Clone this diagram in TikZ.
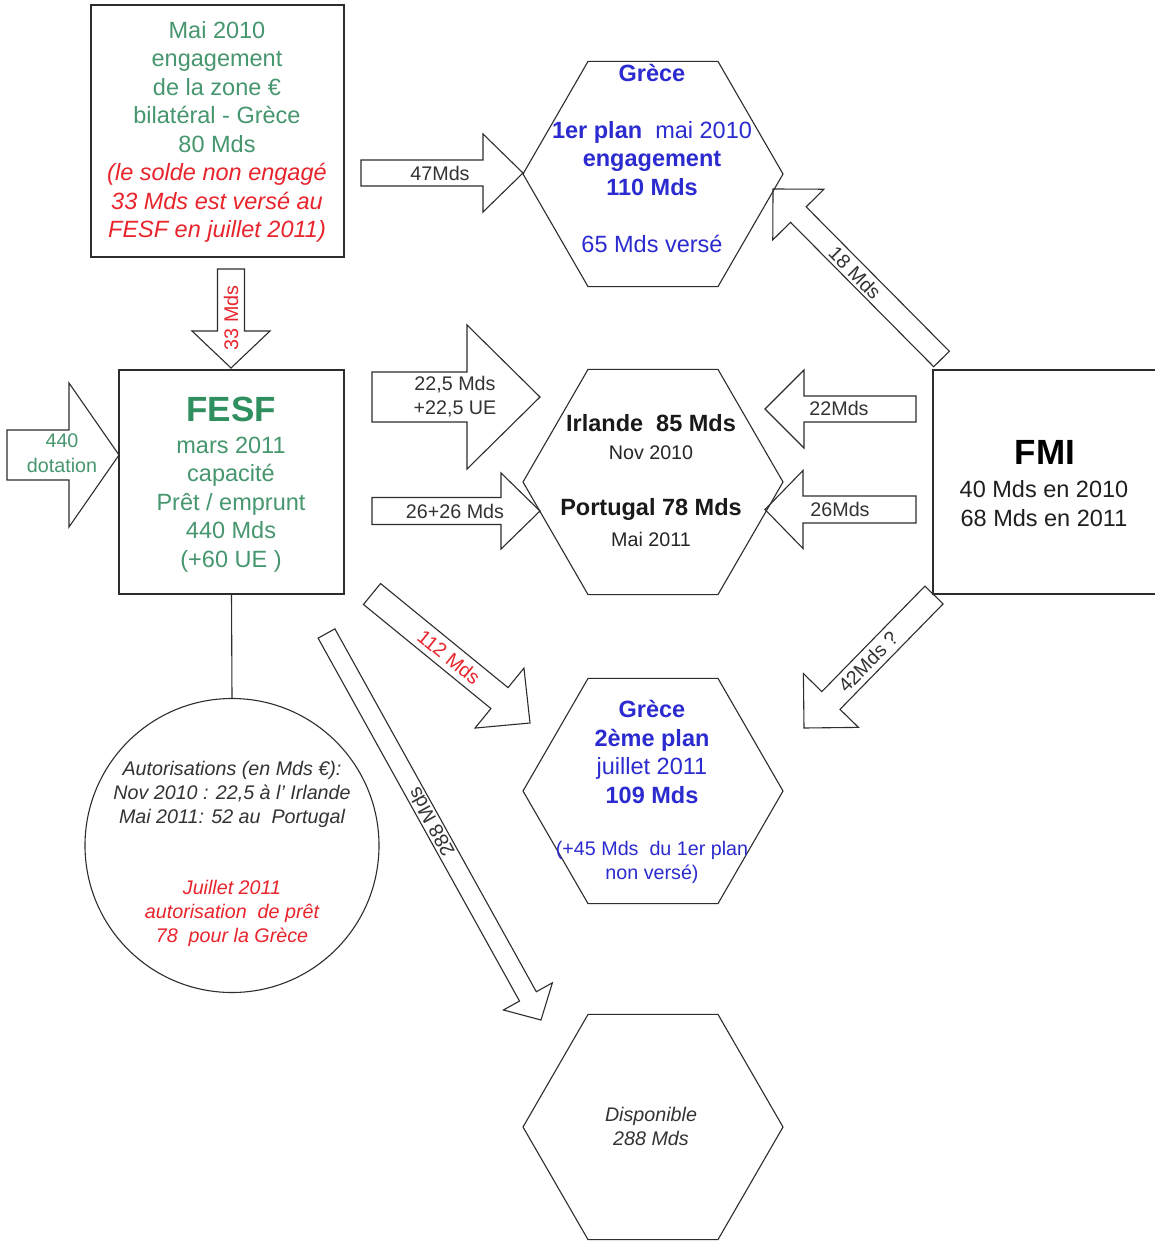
\documentclass[tikz,border=0pt]{standalone}
\usepackage{fontspec}
\setmainfont{Liberation Sans}
\usetikzlibrary{calc,shapes.geometric}
\definecolor{tgreen}{RGB}{70,150,110}
\definecolor{fgreen}{RGB}{47,143,95}
\definecolor{tred}{RGB}{232,36,44}
\definecolor{tblue}{RGB}{43,43,207}
\definecolor{tgray}{RGB}{51,51,51}
\definecolor{lc}{RGB}{45,45,45}
% block arrow: tail, tip, half shaft width, head length, half head width
\newcommand{\blockarrow}[5]{%
  \path ($(#2)!#4!(#1)$) coordinate (bb);
  \draw[barrow] ($(#1)!#3!90:(#2)$) -- ($(bb)!#3!-90:(#1)$) -- ($(bb)!#5!-90:(#1)$) -- (#2)
    -- ($(bb)!#5!90:(#1)$) -- ($(bb)!#3!90:(#1)$) -- ($(#1)!#3!-90:(#2)$) -- cycle;
}
\begin{document}
\begin{tikzpicture}[x=1pt,y=-1pt,
  every node/.style={inner sep=0pt,outer sep=0pt},
  box/.style={draw=lc,line width=1.1pt,rectangle},
  hexa/.style={draw=lc,line width=1.1pt,regular polygon,regular polygon sides=6,minimum size=260pt},
  barrow/.style={draw=lc,line width=1.1pt,line join=miter},
  big/.style={font=\fontsize{23.5}{28.5}\selectfont,align=center},
  small/.style={font=\fontsize{19.7}{24}\selectfont,align=center},
  ttl/.style={font=\fontsize{35}{40}\selectfont\bfseries},
  lbl/.style={small,text=tgray}]
\fill[white] (0,0) rectangle (1154,1241);
\useasboundingbox (0,0) rectangle (1154,1241);

% boxes
\node[box,minimum width=253pt,minimum height=252pt] (zone) at (217.5,131) {};
\node[box,minimum width=225pt,minimum height=224pt] (fesf) at (231.5,482) {};
\node[box,minimum width=223pt,minimum height=224pt] (fmi) at (1044.5,482) {};
\node[draw=lc,line width=1.1pt,circle,minimum size=294pt] (circ) at (232,845.5) {};

% hexagons
\node[hexa] (gr1) at (653,174) {};
\node[hexa] (irpt) at (653,482) {};
\node[hexa] (gr2) at (653,791) {};
\node[hexa] (disp) at (653,1127) {};

% connector FESF - circle
\draw[barrow] (fesf.south) -- (circ.north);

% texts of boxes
\node[big,text=tgreen] (zonetxt) at (217,132) {Mai 2010\\engagement\\de la zone €\\bilatéral - Grèce\\80 Mds\\
  \textcolor{tred}{\itshape (le solde non engagé}\\\textcolor{tred}{\itshape 33 Mds est versé au}\\\textcolor{tred}{\itshape FESF en juillet 2011)}};
\node[ttl,text=fgreen] (fesft) at (231,409) {FESF};
\node[big,text=tgreen] (fesftxt) at (231,504.5) {mars 2011\\capacité\\Prêt / emprunt\\440 Mds\\(+60 UE )};
\node[ttl,text=black] (fmit) at (1045,452) {FMI};
\node[big,text=black!88] (fmitxt) at (1044,503.5) {40 Mds en 2010\\68 Mds en 2011};

% texts of hexagons
\node[big,text=tblue] (gr1txt) at (652,158) {\textbf{Grèce}\\[28.5pt]\textbf{1er plan}\ \ mai 2010\\\textbf{engagement}\\\textbf{110 Mds}\\[28.5pt]65 Mds versé};
\node[big,font=\fontsize{23.5}{28.5}\selectfont\bfseries,text=black!90] (irl) at (651,423) {Irlande\ \ 85 Mds};
\node[small,text=black!85] (irld) at (651,453) {Nov 2010};
\node[big,font=\fontsize{23.5}{28.5}\selectfont\bfseries,text=black!90] (por) at (651,509.5) {Portugal 78 Mds};
\node[small,text=black!85] (pord) at (651,539) {Mai 2011};
\node[big,text=tblue] (gr2txt) at (652,752) {\textbf{Grèce}\\\textbf{2ème plan}\\juillet 2011\\\textbf{109 Mds}};
\node[small,text=tblue] (gr2sub) at (652,862) {(+45 Mds\ \ du 1er plan\\non versé)};
\node[small,text=tgray,font=\fontsize{19.7}{24}\selectfont\itshape] (disptxt) at (651,1126) {Disponible\\288 Mds};

% circle texts
\node[small,text=tgray,font=\fontsize{19.7}{24}\selectfont\itshape] (aut1) at (232,794) {Autorisations (en Mds €):\\Nov 2010 : 22,5 à l’ Irlande\\Mai 2011: 52 au\ \ Portugal};
\node[small,text=tred,font=\fontsize{19.7}{24}\selectfont\itshape] (aut2) at (232,913) {Juillet 2011\\autorisation\ \ de prêt\\78\ \ pour la Grèce};

% block arrows
\coordinate (t33) at (231,269);   \coordinate (h33) at (231,368);
\blockarrow{t33}{h33}{13.5pt}{37pt}{39pt}
\coordinate (t440) at (7,455);    \coordinate (h440) at (119,455);
\blockarrow{t440}{h440}{25pt}{50pt}{72pt}
\coordinate (t47) at (361,173);   \coordinate (h47) at (523,173);
\blockarrow{t47}{h47}{13pt}{40pt}{39pt}
\coordinate (t225) at (372,397);  \coordinate (h225) at (540,397);
\blockarrow{t225}{h225}{25pt}{73pt}{72pt}
\coordinate (t26) at (372,511);   \coordinate (h26) at (540,511);
\blockarrow{t26}{h26}{13.5pt}{39pt}{38pt}
\coordinate (t22) at (916,409);   \coordinate (h22) at (765,409);
\blockarrow{t22}{h22}{13pt}{39pt}{39pt}
\coordinate (t26r) at (916,509.5); \coordinate (h26r) at (765,509.5);
\blockarrow{t26r}{h26r}{13.5pt}{38pt}{39pt}
\coordinate (t18) at (941.5,359); \coordinate (h18) at (773,189);
\blockarrow{t18}{h18}{11pt}{36pt}{36pt}
\coordinate (t42) at (934,595);   \coordinate (h42) at (804,728);
\blockarrow{t42}{h42}{12.7pt}{38.5pt}{38.5pt}
\coordinate (t112) at (372,594);  \coordinate (h112) at (530,723);
\blockarrow{t112}{h112}{13.5pt}{39.4pt}{38.7pt}
\coordinate (t288) at (326.5,633.5); \coordinate (h288) at (541,1020);
\blockarrow{t288}{h288}{9.6pt}{27pt}{28pt}

% arrow labels
\node[lbl,text=tred,rotate=90] (l33) at (231,318) {33 Mds};
\node[lbl,text=tgreen,font=\fontsize{19.7}{25}\selectfont] (l440) at (62,453) {440\\dotation};
\node[lbl] (l47) at (440,173) {47Mds};
\node[lbl] (l225) at (455,397) {22,5 Mds\\+22,5 UE};
\node[lbl] (l26) at (455,511) {26+26 Mds};
\node[lbl] (l22) at (839,408) {22Mds};
\node[lbl] (l26r) at (840,509) {26Mds};
\node[lbl,rotate=-45.3] (l18) at (855,273) {18 Mds};
\node[lbl,text=tred,rotate=-39.2] (l112) at (449,657) {112 Mds};
\node[lbl,rotate=45.7] (l42) at (868,662) {42Mds ?};
\node[lbl,rotate=119] (l288) at (431,822) {288 Mds};
\end{tikzpicture}
\end{document}
